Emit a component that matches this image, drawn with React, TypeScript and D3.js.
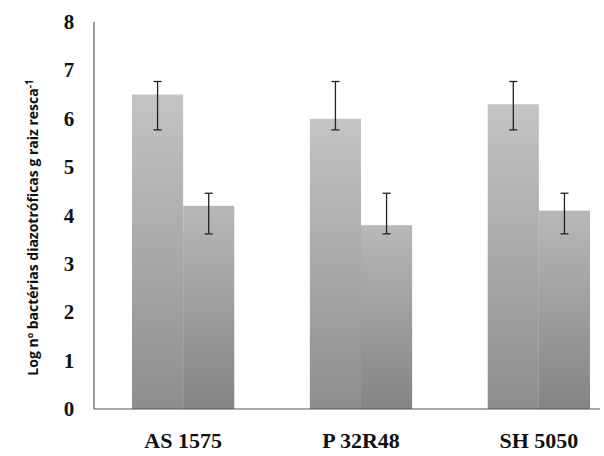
import React from "react";
import * as d3 from "d3";

const categories = ["AS 1575", "P 32R48", "SH 5050"];
const series1 = [6.5, 6.0, 6.3];
const series1Hi = [6.77, 6.77, 6.77];
const series1Lo = [5.77, 5.77, 5.77];
const series2 = [4.2, 3.8, 4.1];
const series2Hi = [4.46, 4.46, 4.46];
const series2Lo = [3.62, 3.62, 3.62];
const yTicks = [0, 1, 2, 3, 4, 5, 6, 7, 8];

export default function App() {
  const W = 604, H = 456;
  const x0 = 94, x1 = 600, yB = 409, yT = 22;
  const y = d3.scaleLinear().domain([0, 8]).range([yB, yT]);
  const x = d3.scaleBand().domain(categories).range([132, 590]).paddingInner(0.425).paddingOuter(0);
  const bw = x.bandwidth() / 2;
  const err = (cx: number, hi: number, lo: number, k: string) => (
    <g key={k} stroke="#222" strokeWidth={1.3}>
      <line x1={cx} x2={cx} y1={y(hi)} y2={y(lo)} />
      <line x1={cx - 4} x2={cx + 4} y1={y(hi)} y2={y(hi)} />
      <line x1={cx - 4} x2={cx + 4} y1={y(lo)} y2={y(lo)} />
    </g>
  );
  return (
    <svg width={W} height={H} style={{ position: "absolute", left: 0, top: 0 }}>
      <defs>
        <linearGradient id="g1" x1="0" y1="0" x2="0" y2="1">
          <stop offset="0" stopColor="#c4c4c6" />
          <stop offset="1" stopColor="#8e8e91" />
        </linearGradient>
        <linearGradient id="g2" x1="0" y1="0" x2="0" y2="1">
          <stop offset="0" stopColor="#b8b8ba" />
          <stop offset="1" stopColor="#848487" />
        </linearGradient>
      </defs>
      <rect width={W} height={H} fill="#fff" />
      {categories.map((c, i) => {
        const bx = x(c)!;
        return (
          <g key={c}>
            <rect x={bx} y={y(series1[i])} width={bw} height={yB - y(series1[i])} fill="url(#g1)" />
            <rect x={bx + bw} y={y(series2[i])} width={bw} height={yB - y(series2[i])} fill="url(#g2)" />
            {err(bx + bw / 2, series1Hi[i], series1Lo[i], "a" + i)}
            {err(bx + bw * 1.5, series2Hi[i], series2Lo[i], "b" + i)}
            <text x={bx + bw} y={448} textAnchor="middle" fontFamily="Liberation Serif" fontWeight="bold" fontSize={22} fill="#111">{c}</text>
          </g>
        );
      })}
      <line x1={x0} x2={x0} y1={yT} y2={yB} stroke="#555" strokeWidth={1.2} />
      <line x1={x0} x2={x1} y1={yB} y2={yB} stroke="#555" strokeWidth={1.2} />
      {yTicks.map(t => (
        <text key={t} x={69} y={y(t) + 7} textAnchor="middle" fontFamily="Liberation Serif" fontWeight="bold" fontSize={21} fill="#111">{t}</text>
      ))}
      <text transform={`translate(38,${(yT + yB) / 2 + 12}) rotate(-90)`} textAnchor="middle" fontFamily="Open Sans" fontWeight="bold" fontSize={14} fill="#111">
        Log nº bactérias diazotróficas g raiz resca<tspan dy={-5} fontSize={10}>-1</tspan>
      </text>
    </svg>
  );
}
